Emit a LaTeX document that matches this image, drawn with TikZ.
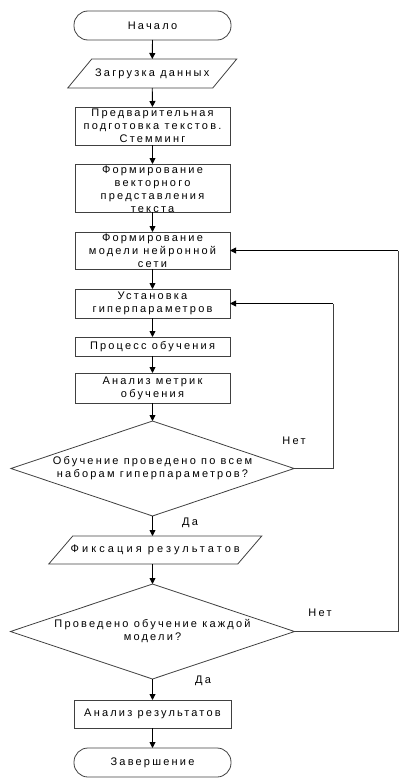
\documentclass[tikz,border=0pt]{standalone}
\usepackage{fontspec}
\setmainfont{Liberation Sans}[LetterSpace=20]
\usetikzlibrary{arrows.meta}
\definecolor{linec}{gray}{0.25}
\begin{document}
\begin{tikzpicture}[x=1pt,y=-1pt,
  plain/.style={inner sep=0pt, outer sep=0pt},
  box/.style={plain, draw=linec, line width=0.8pt, minimum width=155pt},
  term/.style={box, rounded corners=14pt, minimum width=157pt, minimum height=29pt},
  outline/.style={draw=linec, line width=0.8pt},
  txt/.style={plain, font=\fontsize{11}{13}\selectfont, align=center},
  lbl/.style={plain, font=\fontsize{11}{13}\selectfont},
  arr/.style={draw=black, line width=0.9pt, -{Triangle[length=6pt,width=6pt]}},
  ln/.style={draw=linec, line width=0.9pt},
]
\useasboundingbox (0,0) rectangle (417,784);

% nodes
\node[term] (start) at (152.5,25.5) {};
\node[txt] (tstart) at (start) {Начало};

\node[plain, minimum width=145pt, minimum height=29pt] (load) at (152.25,73.5) {};
\draw[outline] ([xshift=12pt]load.north west) -- ([xshift=12pt]load.north east)
  -- ([xshift=-12pt]load.south east) -- ([xshift=-12pt]load.south west) -- cycle;
\node[txt] (tload) at (load) {Загрузка данных};

\node[box, minimum height=38pt] (b1) at (152.5,126) {};
\node[txt] (tb1) at (b1) {Предварительная\\подготовка текстов.\\Стемминг};

\node[box, minimum height=48pt] (b2) at (152.5,188) {};
\node[txt] (tb2) at ([yshift=-1pt]b2) {Формирование\\векторного\\представления\\текста};

\node[box, minimum height=37pt] (b3) at (152.5,250.5) {};
\node[txt] (tb3) at (b3) {Формирование\\модели нейронной\\сети};

\node[box, minimum height=29pt] (b4) at (152.5,303.5) {};
\node[txt] (tb4) at (b4) {Установка\\гиперпараметров};

\node[box, minimum height=19pt] (b5) at (152.5,346.5) {};
\node[txt] (tb5) at (b5) {Процесс обучения};

\node[box, minimum height=30pt] (b6) at (152.5,388) {};
\node[txt] (tb6) at (b6) {Анализ метрик\\обучения};

\node[plain, minimum width=283pt, minimum height=95pt] (d1) at (152.5,468.5) {};
\draw[outline] (d1.north) -- (d1.east) -- (d1.south) -- (d1.west) -- cycle;
\node[txt] (td1) at (d1) {Обучение проведено по всем\\наборам гиперпараметров?};

\node[plain, minimum width=189pt, minimum height=28pt] (fix) at (155.25,550) {};
\draw[outline] ([xshift=12pt]fix.north west) -- ([xshift=12pt]fix.north east)
  -- ([xshift=-12pt]fix.south east) -- ([xshift=-12pt]fix.south west) -- cycle;
\node[txt] (tfix) at (fix) {\addfontfeature{LetterSpace=28}Фиксация результатов};

\node[plain, minimum width=284pt, minimum height=95pt] (d2) at (152.5,631.5) {};
\draw[outline] (d2.north) -- (d2.east) -- (d2.south) -- (d2.west) -- cycle;
\node[txt] (td2) at (d2) {Проведено обучение каждой\\модели?};

\node[box, minimum width=157pt, minimum height=28pt] (b7) at (152.5,714) {};
\node[txt] (tb7) at (b7) {Анализ результатов};

\node[term] (end) at (152.5,762.5) {};
\node[txt] (tend) at (end) {Завершение};

% labels
\node[lbl] (no1) at (294,441) {Нет};
\node[lbl] (yes1) at (190,523) {Да};
\node[lbl] (no2) at (320,613) {Нет};
\node[lbl] (yes2) at (203,681) {Да};

% connectors
\draw[arr] (start.south) -- (load.north);
\draw[arr] (load.south) -- (b1.north);
\draw[arr] (b1.south) -- (b2.north);
\draw[arr] (b2.south) -- (b3.north);
\draw[arr] (b3.south) -- (b4.north);
\draw[arr] (b4.south) -- (b5.north);
\draw[arr] (b5.south) -- (b6.north);
\draw[arr] (b6.south) -- (d1.north);
\draw[arr] (d1.south) -- (d1.south |- fix.north);
\draw[arr] (d2.north |- fix.south) -- (d2.north);
\draw[arr] (d2.south) -- (b7.north);
\draw[arr] (b7.south) -- (end.north);

\coordinate (c1) at (333,468.5);
\coordinate (c2) at (398,631.5);
\draw[ln] (d1.east) -- (c1) -- (c1 |- b4.east);
\draw[arr] (c1 |- b4.east) -- (b4.east);
\draw[ln] (d2.east) -- (c2) -- (c2 |- b3.east);
\draw[arr] (c2 |- b3.east) -- (b3.east);
\end{tikzpicture}
\end{document}
